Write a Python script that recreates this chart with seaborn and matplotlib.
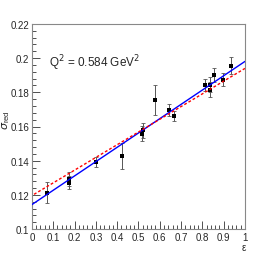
import numpy as np
import pandas as pd
import seaborn as sns
import matplotlib
matplotlib.use("Agg")
import matplotlib.pyplot as plt
from matplotlib.ticker import MultipleLocator, FuncFormatter

# Data
eps = [0.069, 0.174, 0.174, 0.302, 0.424, 0.518, 0.523, 0.577, 0.645, 0.665,
       0.812, 0.836, 0.836, 0.856, 0.898, 0.934]
sigma = [0.1213, 0.1293, 0.1272, 0.1392, 0.1426, 0.1559, 0.1578, 0.1754, 0.1696, 0.1662,
         0.1842, 0.1845, 0.1815, 0.1903, 0.1873, 0.1956]
err = [0.006, 0.004, 0.004, 0.003, 0.0075, 0.0045, 0.0045, 0.0088, 0.0034, 0.003,
       0.0037, 0.0045, 0.0045, 0.004, 0.0038, 0.005]

blue_x = [0.0, 1.0]
blue_y = [0.1143, 0.1981]
red_x = [0.01, 1.0]
red_y = [0.1203, 0.1940]

x_ticks = [0, 0.1, 0.2, 0.3, 0.4, 0.5, 0.6, 0.7, 0.8, 0.9, 1]
y_ticks = [0.1, 0.12, 0.14, 0.16, 0.18, 0.2, 0.22]

sns.set_theme(style="white")
plt.rcParams['font.family'] = ['Liberation Sans', 'DejaVu Sans']

fig = plt.figure(figsize=(2.66, 2.55), dpi=100)
ax = fig.add_axes([0.120, 0.098, 0.801, 0.804])

df = pd.DataFrame({"eps": eps, "sigma": sigma, "err": err})

ax.errorbar(df["eps"], df["sigma"], yerr=df["err"], fmt="none",
            ecolor="#555555", elinewidth=0.7, capsize=1.2, capthick=0.6, zorder=2)
sns.scatterplot(data=df, x="eps", y="sigma", marker="s", s=7, color="black",
                edgecolor="black", linewidth=0, ax=ax, zorder=3)

sns.lineplot(x=blue_x, y=blue_y, color="blue", linewidth=1.0, ax=ax, zorder=4)
sns.lineplot(x=red_x, y=red_y, color="red", linewidth=1.0, linestyle=(0, (2, 1.5)),
             ax=ax, zorder=4)

ax.set_xlim(0, 1)
ax.set_ylim(0.1, 0.22)
ax.set_xticks(x_ticks)
ax.set_yticks(y_ticks)
ax.xaxis.set_minor_locator(MultipleLocator(0.02))
ax.yaxis.set_minor_locator(MultipleLocator(0.004))
fmt = FuncFormatter(lambda v, p: ("%g" % round(v, 3)))
ax.xaxis.set_major_formatter(fmt)
ax.yaxis.set_major_formatter(fmt)

ax.tick_params(axis="both", which="major", direction="in", length=6, width=0.6,
               labelsize=7, pad=2, color="#333333", top=False, right=False,
               bottom=True, left=True)
ax.tick_params(axis="both", which="minor", direction="in", length=3, width=0.6,
               color="#333333", top=False, right=False, bottom=True, left=True)
for sp in ax.spines.values():
    sp.set_color("#888888")
    sp.set_linewidth(0.8)

ax.set_xlabel("")
ax.set_ylabel("")
fig.text(0.917, 0.027, "ε", fontsize=7, ha="center", va="center")
fig.text(0.022, 0.53, r"$\sigma_{\mathregular{red}}$", fontsize=8, rotation=90,
         ha="center", va="center")
ax.text(0.08, 0.815, r"Q$^{2}$ = 0.584 GeV$^{2}$", transform=ax.transAxes,
        fontsize=8.5, ha="left", va="center")

fig.savefig("out.png", dpi=100)
